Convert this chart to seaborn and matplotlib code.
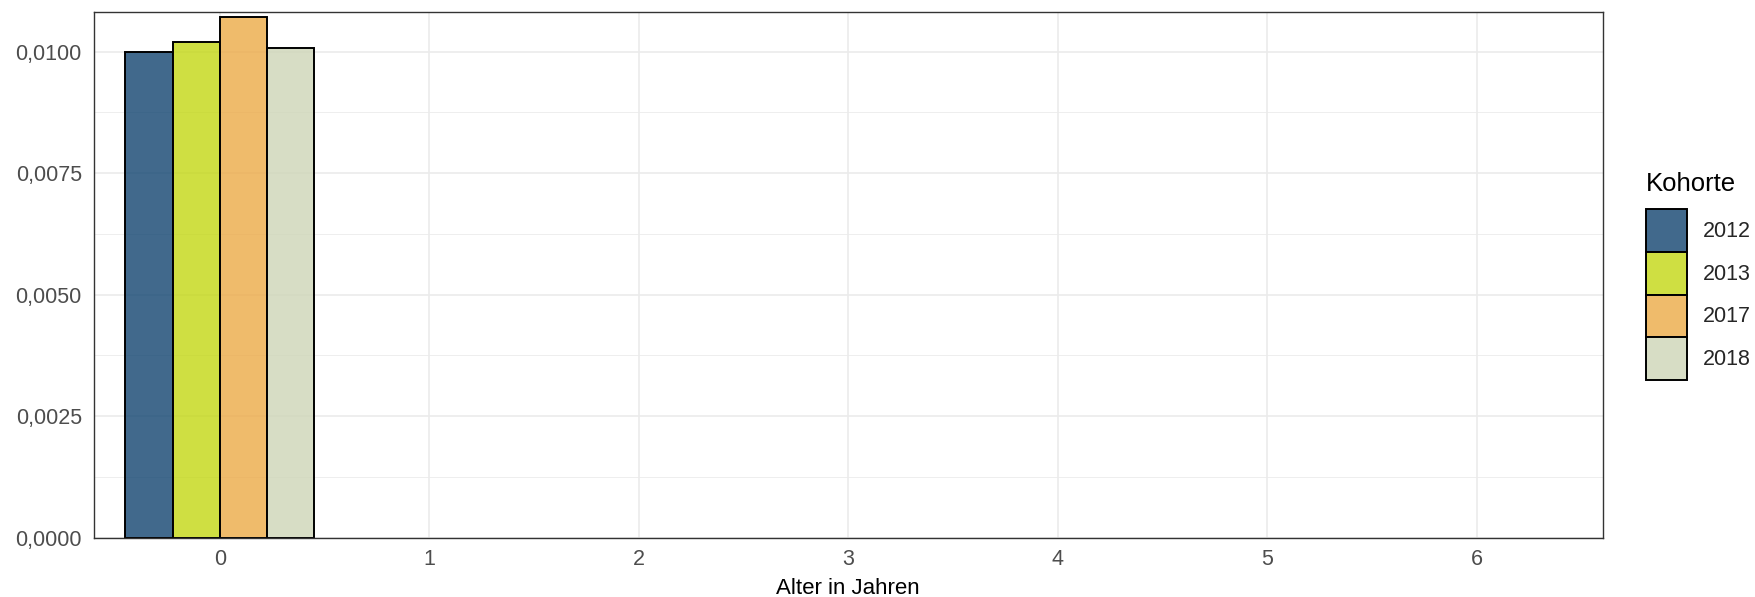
import matplotlib
matplotlib.use("Agg")
import matplotlib.pyplot as plt
from matplotlib.patches import Patch
from matplotlib.ticker import FixedLocator, FuncFormatter
import numpy as np
import pandas as pd
import seaborn as sns

# Alter in Jahren (0-6), Anteil je Kohorte (ab Alter 1 keine Werte)
alter = [0, 1, 2, 3, 4, 5, 6]
kohorten = ["2012", "2013", "2017", "2018"]
anteil_2012 = [0.00999, np.nan, np.nan, np.nan, np.nan, np.nan, np.nan]
anteil_2013 = [0.01020, np.nan, np.nan, np.nan, np.nan, np.nan, np.nan]
anteil_2017 = [0.01072, np.nan, np.nan, np.nan, np.nan, np.nan, np.nan]
anteil_2018 = [0.01008, np.nan, np.nan, np.nan, np.nan, np.nan, np.nan]
farben = ["#114470", "#C3D713", "#ECAA46", "#CED5B7"]

werte = {"2012": anteil_2012, "2013": anteil_2013, "2017": anteil_2017, "2018": anteil_2018}
rows = []
for k in kohorten:
    for a, v in zip(alter, werte[k]):
        rows.append({"Alter": a, "Kohorte": k, "Anteil": v})
df = pd.DataFrame(rows)

sns.set_style("white")
plt.rcParams["font.family"] = ["Liberation Sans", "DejaVu Sans"]

W, H = 1756, 597
fig = plt.figure(figsize=(W / 100, H / 100), dpi=100)
ax = fig.add_axes([94 / W, (H - 537.7) / H, (1602.7 - 94) / W, (537.7 - 11.7) / H])

sns.barplot(
    data=df, x="Alter", y="Anteil", hue="Kohorte", hue_order=kohorten,
    order=alter, palette=farben, saturation=1, edgecolor="black",
    linewidth=1.4, width=0.9, gap=0, legend=False, ax=ax, zorder=2,
)
# transparente Füllung, Rand deckend
for p in ax.patches:
    fc = p.get_facecolor()
    p.set_facecolor((fc[0], fc[1], fc[2], 0.8))

ax.set_xlim(-0.6, 6.6)
ax.set_ylim(0, 0.01082)

ax.yaxis.set_major_locator(FixedLocator([0, 0.0025, 0.005, 0.0075, 0.01]))
ax.yaxis.set_minor_locator(FixedLocator([0.00125, 0.00375, 0.00625, 0.00875]))
ax.yaxis.set_major_formatter(FuncFormatter(lambda v, _: f"{v:.4f}".replace(".", ",")))

ax.set_axisbelow(True)
ax.grid(which="major", color="#EBEBEB", linewidth=1.2)
ax.grid(which="minor", axis="y", color="#EBEBEB", linewidth=0.6)

for s in ax.spines.values():
    s.set_color("#333333")
    s.set_linewidth(1.0)
    s.set_visible(True)

ax.tick_params(which="major", length=4.8, width=1.0, color="#333333",
               labelsize=15.5, labelcolor="#4D4D4D")
ax.tick_params(axis="x", pad=3.0)
ax.tick_params(axis="y", pad=4.0)
ax.tick_params(which="minor", length=0)

ax.set_xlabel("")
ax.set_ylabel("")
fig.text(848 / W, 2.5 / H, "Alter in Jahren", ha="center", va="baseline",
         fontsize=16, color="black")

# Legende
fig.text(1646 / W, (H - 190.7) / H, "Kohorte", ha="left", va="baseline",
         fontsize=18.5, color="black")
fs = 15.5
fs_px = fs * 100 / 72
key_h = 42.75 / fs_px
handles = [Patch(facecolor=c, edgecolor="black", linewidth=1.4) for c in farben]
for h in handles:
    fc = h.get_facecolor()
    h.set_facecolor((fc[0], fc[1], fc[2], 0.8))
fig.legend(
    handles, kohorten, loc="upper left",
    bbox_to_anchor=(1646 / W, (H - 209) / H), bbox_transform=fig.transFigure,
    frameon=False, fontsize=fs, borderpad=0, borderaxespad=0, labelspacing=0,
    handlelength=41 / fs_px, handleheight=(key_h - 0.245) / 0.65,
    handletextpad=16 / fs_px,
)

fig.savefig("out.png", dpi=100)
plt.close(fig)
